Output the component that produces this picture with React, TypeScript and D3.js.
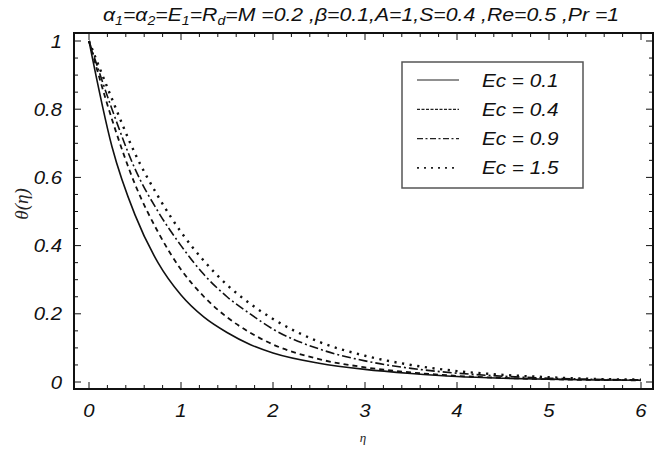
import React from "react";
import * as d3 from "d3";

const eta = [0, 0.25, 0.5, 0.75, 1, 1.25, 1.5, 1.75, 2, 2.5, 3, 3.5, 4, 4.5, 5, 5.5, 6];
const ec01 = [1, 0.69, 0.49, 0.35, 0.255, 0.19, 0.145, 0.11, 0.085, 0.055, 0.037, 0.025, 0.016, 0.011, 0.008, 0.006, 0.005];
const ec04 = [1, 0.77, 0.58, 0.44, 0.33, 0.25, 0.19, 0.145, 0.11, 0.067, 0.043, 0.028, 0.018, 0.012, 0.008, 0.006, 0.005];
const ec09 = [1, 0.8, 0.625, 0.5, 0.4, 0.315, 0.25, 0.2, 0.155, 0.097, 0.062, 0.04, 0.026, 0.017, 0.011, 0.008, 0.006];
const ec15 = [1, 0.83, 0.67, 0.545, 0.44, 0.355, 0.285, 0.23, 0.185, 0.118, 0.077, 0.05, 0.032, 0.021, 0.014, 0.009, 0.007];
const legendLabels = ["Ec = 0.1", "Ec = 0.4", "Ec = 0.9", "Ec = 1.5"];
const xTicks = [0, 1, 2, 3, 4, 5, 6];
const yTicks = [0, 0.2, 0.4, 0.6, 0.8, 1];

const dashes = [null, "5,4", "9,3,2,3", "2.2,5.5"];
const widths = [1.6, 1.8, 1.6, 2.4];
const legendDashes = [null, "3,1.5", "6,2.5,2,2.5", "2,5"];

export default function App() {
  const W = 661, H = 451;
  const frame = { l: 74, r: 653, t: 33, b: 389 };
  const x = d3.scaleLinear().domain([0, 6]).range([89, 641]);
  const y = d3.scaleLinear().domain([0, 1]).range([382, 41]);
  const series = [ec01, ec04, ec09, ec15];
  const line = d3
    .line<number>()
    .x((_, i) => x(eta[i]))
    .y((d) => y(d))
    .curve(d3.curveMonotoneX);

  const xMinor = d3.range(0, 6.0001, 0.2);
  const yMinor = d3.range(0, 1.0001, 0.05);
  const font = "'Liberation Sans', Arial, sans-serif";
  const sx = 1.13;

  return (
    <svg width={W} height={H} style={{ position: "absolute", left: 0, top: 0, background: "#fff" }}>
      <rect x={0} y={0} width={W} height={H} fill="#fff" />
      {/* title */}
      <text
        transform={`translate(361,21) scale(1.18,1)`}
        x={0}
        y={0}
        textAnchor="middle"
        fontFamily={font}
        fontStyle="italic"
        fontSize={18}
        fill="#111"
      >
        <tspan>α</tspan><tspan fontSize={12} dy={4}>1</tspan>
        <tspan dy={-4}>=α</tspan><tspan fontSize={12} dy={4}>2</tspan>
        <tspan dy={-4}>=E</tspan><tspan fontSize={12} dy={4}>1</tspan>
        <tspan dy={-4}>=R</tspan><tspan fontSize={12} dy={4}>d</tspan>
        <tspan dy={-4}>=M =0.2 ,β=0.1,A=1,S=0.4 ,Re=0.5 ,Pr =1</tspan>
      </text>

      {/* ticks */}
      {xMinor.map((v, i) => {
        const major = Math.abs(v - Math.round(v)) < 1e-6;
        const len = major ? 7 : 4;
        return (
          <g key={"xt" + i} stroke="#111" strokeWidth={1}>
            <line x1={x(v)} x2={x(v)} y1={frame.b} y2={frame.b - len} />
            <line x1={x(v)} x2={x(v)} y1={frame.t} y2={frame.t + len} />
          </g>
        );
      })}
      {yMinor.map((v, i) => {
        const major = Math.abs(v * 5 - Math.round(v * 5)) < 1e-6;
        const len = major ? 7 : 4;
        return (
          <g key={"yt" + i} stroke="#111" strokeWidth={1}>
            <line x1={frame.l} x2={frame.l + len} y1={y(v)} y2={y(v)} />
            <line x1={frame.r} x2={frame.r - len} y1={y(v)} y2={y(v)} />
          </g>
        );
      })}

      <defs>
        <clipPath id="clip">
          <rect x={frame.l} y={frame.t} width={frame.r - frame.l} height={frame.b - frame.t} />
        </clipPath>
      </defs>
      {/* curves */}
      <g clipPath="url(#clip)">
        {series.map((s, i) => (
          <path
            key={"s" + i}
            d={line(s) || ""}
            fill="none"
            stroke="#111"
            strokeWidth={widths[i]}
            strokeDasharray={dashes[i] || undefined}
          />
        ))}
      </g>

      {/* frame */}
      <rect x={frame.l} y={frame.t} width={frame.r - frame.l} height={frame.b - frame.t} fill="none" stroke="#111" strokeWidth={2} />

      {/* tick labels */}
      {xTicks.map((v) => (
        <text
          key={"xl" + v}
          transform={`translate(${x(v)},417) scale(${sx},1)`}
          textAnchor="middle"
          fontFamily={font}
          fontStyle="italic"
          fontSize={18}
          fill="#111"
        >
          {v}
        </text>
      ))}
      {yTicks.map((v) => (
        <text
          key={"yl" + v}
          transform={`translate(62,${y(v) + 6.5}) scale(${sx},1)`}
          textAnchor="end"
          fontFamily={font}
          fontStyle="italic"
          fontSize={18}
          fill="#111"
        >
          {v === 0 || v === 1 ? String(v) : v.toFixed(1)}
        </text>
      ))}

      {/* axis labels */}
      <text x={363} y={442} textAnchor="middle" fontFamily="'Liberation Serif', serif" fontStyle="italic" fontSize={13} fill="#222">
        η
      </text>
      <text
        transform="translate(28,204) rotate(-90)"
        textAnchor="middle"
        fontFamily="'Liberation Serif', serif"
        fontStyle="italic"
        fontSize={19}
        fill="#222"
      >
        θ(η)
      </text>

      {/* legend */}
      <rect x={402} y={62} width={181} height={126} fill="#fff" stroke="#555" strokeWidth={1.5} />
      {legendLabels.map((lab, i) => {
        const ly = 80 + i * 29.3;
        return (
          <g key={"lg" + i}>
            <line
              x1={417}
              x2={459}
              y1={ly}
              y2={ly}
              stroke="#222"
              strokeWidth={i === 3 ? 1.6 : 1.2}
              strokeDasharray={legendDashes[i] || undefined}
            />
            <text
              transform={`translate(482,${ly + 6.5}) scale(1.15,1)`}
              fontFamily={font}
              fontStyle="italic"
              fontSize={18}
              fill="#111"
            >
              {lab}
            </text>
          </g>
        );
      })}
    </svg>
  );
}
